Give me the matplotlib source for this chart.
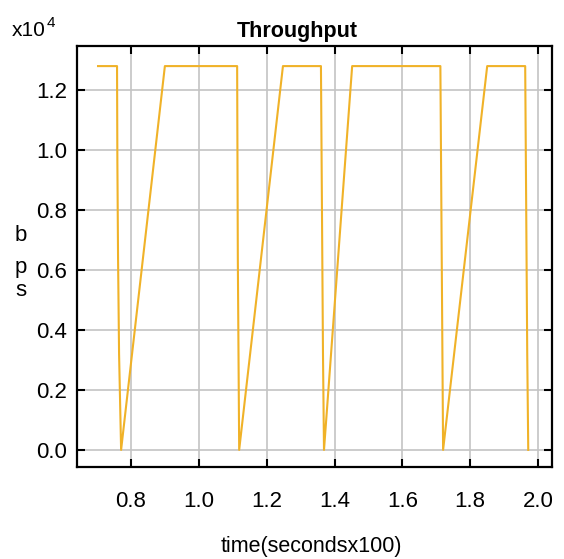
import matplotlib
matplotlib.use('Agg')
import matplotlib.pyplot as plt
from matplotlib.ticker import FuncFormatter

plt.rcParams['font.family'] = ['Liberation Sans', 'DejaVu Sans']

# time in seconds x100, throughput in bps
time = [0.703, 0.759, 0.760, 0.762, 0.765, 0.771,
        0.900, 1.113, 1.114, 1.115, 1.117, 1.119,
        1.248, 1.360, 1.362, 1.364, 1.366, 1.369,
        1.452, 1.712, 1.714, 1.716, 1.718, 1.720,
        1.850, 1.962, 1.964, 1.966, 1.968, 1.971]
bps = [12800, 12800, 9600, 6400, 3200, 0,
       12800, 12800, 9600, 6400, 3200, 0,
       12800, 12800, 9600, 6400, 3200, 0,
       12800, 12800, 9600, 6400, 3200, 0,
       12800, 12800, 9600, 6400, 3200, 0]

xticks = [0.8, 1.0, 1.2, 1.4, 1.6, 1.8, 2.0]
yticks = [0, 2000, 4000, 6000, 8000, 10000, 12000]

W, H = 564, 559
fig = plt.figure(figsize=(W / 100, H / 100), dpi=100)
ax = fig.add_axes([77 / W, 1 - 467 / H, (552 - 77) / W, (467 - 46) / H])

ax.plot(time, bps, color='#f0b228', lw=1.5)

ax.set_xlim(0.641, 2.041)
ax.set_ylim(-570, 13470)
ax.set_xticks(xticks)
ax.set_yticks(yticks)
ax.xaxis.set_major_formatter(FuncFormatter(lambda v, p: '%.1f' % v))
ax.yaxis.set_major_formatter(FuncFormatter(lambda v, p: '%.1f' % (v / 1e4)))
ax.grid(True, color='#c4c4c4', lw=1.2)
ax.set_axisbelow(True)
ax.tick_params(direction='in', length=6, width=1.5, top=True, right=True, labelsize=16)
ax.tick_params(axis='x', pad=17)
ax.tick_params(axis='y', pad=7)
for s in ax.spines.values():
    s.set_linewidth(1.6)

fig.text(297 / W, 1 - 37 / H, 'Throughput', ha='center', va='baseline', fontsize=15.5, fontweight='bold')
fig.text(12 / W, 1 - 36 / H, 'x10', ha='left', va='baseline', fontsize=15)
fig.text(47 / W, 1 - 27 / H, '4', ha='left', va='baseline', fontsize=11)
fig.text(21 / W, 1 - 241 / H, 'b', ha='center', va='baseline', fontsize=16)
fig.text(21 / W, 1 - 273 / H, 'p', ha='center', va='baseline', fontsize=16)
fig.text(21 / W, 1 - 296 / H, 's', ha='center', va='baseline', fontsize=16)
fig.text(311 / W, 1 - 552 / H, 'time(secondsx100)', ha='center', va='baseline', fontsize=15.5)

fig.savefig('out.png', dpi=100)
